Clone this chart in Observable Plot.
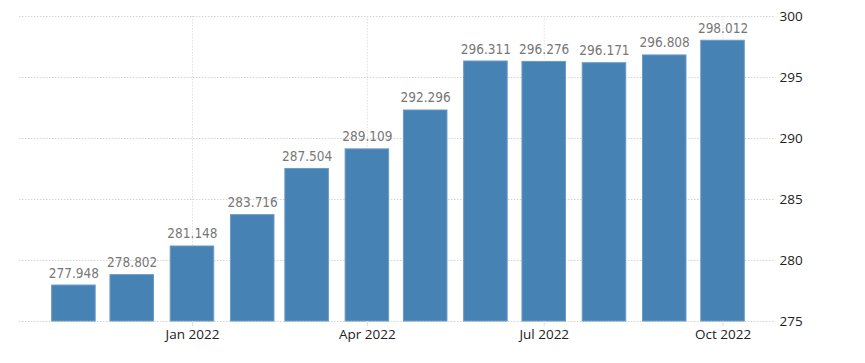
<!DOCTYPE html>
<html>
<head>
<meta charset="utf-8">
<script src="https://cdn.jsdelivr.net/npm/d3@7"></script>
<script src="https://cdn.jsdelivr.net/npm/@observablehq/plot@0.6"></script>
<style>
  html, body { margin: 0; padding: 0; background: #fff; }
  #chart svg { display: block; }
</style>
</head>
<body>
<div id="chart"></div>
<script>
// Data
const months = ["2021-11-01","2021-12-01","2022-01-01","2022-02-01","2022-03-01","2022-04-01",
                "2022-05-01","2022-06-01","2022-07-01","2022-08-01","2022-09-01","2022-10-01"];
const values = [277.948, 278.802, 281.148, 283.716, 287.504, 289.109,
                292.296, 296.311, 296.276, 296.171, 296.808, 298.012];
const xTicks = ["2022-01-01","2022-04-01","2022-07-01","2022-10-01"];
const yTicks = [275, 280, 285, 290, 295, 300];
const yDomain = [275, 300];
const xDomain = ["2021-10-04", "2022-10-28"];

const data = months.map((m, i) => ({date: new Date(m), value: values[i]}));
const tickDates = xTicks.map(d => new Date(d));
const halfBarDays = 11.2;
const off = (d, k) => new Date(d.getTime() + k * 864e5);

const chart = Plot.plot({
  width: 865,
  height: 363,
  marginLeft: 19,
  marginRight: 90,
  marginTop: 16,
  marginBottom: 42,
  style: {fontFamily: "'Open Sans', sans-serif", fontSize: "13.5px", background: "#fff"},
  x: {type: "utc", domain: xDomain.map(d => new Date(d))},
  y: {domain: yDomain},
  marks: [
    Plot.gridY(yTicks, {stroke: "#d4d4d4", strokeOpacity: 1, strokeDasharray: "1.5,1.5"}),
    Plot.gridX(tickDates, {stroke: "#e0e0e0", strokeOpacity: 1, strokeDasharray: "1.5,1.5"}),
    Plot.rectY(data, {
      x1: d => off(d.date, -halfBarDays),
      x2: d => off(d.date, halfBarDays),
      y1: yDomain[0],
      y2: "value",
      fill: "#4682b4",
      stroke: "#6b9ac4",
      strokeWidth: 1
    }),
    Plot.text(data, {
      x: "date", y: "value",
      text: d => d.value.toFixed(3),
      dy: -8, lineAnchor: "bottom",
      fill: "#777", fontSize: 13.5,
      fontFamily: "'DejaVu Sans Condensed', 'DejaVu Sans', sans-serif"
    }),
    Plot.axisY(yTicks, {anchor: "right", tickSize: 0, tickPadding: 4, fill: "#222", fontSize: 13.5, label: null}),
    Plot.axisX(tickDates, {anchor: "bottom", tickSize: 5, stroke: "#ddd", fill: "#222", tickPadding: 3,
      fontSize: 13.5, tickFormat: d3.utcFormat("%b %Y"), label: null})
  ]
});
document.getElementById("chart").appendChild(chart);
</script>
</body>
</html>
